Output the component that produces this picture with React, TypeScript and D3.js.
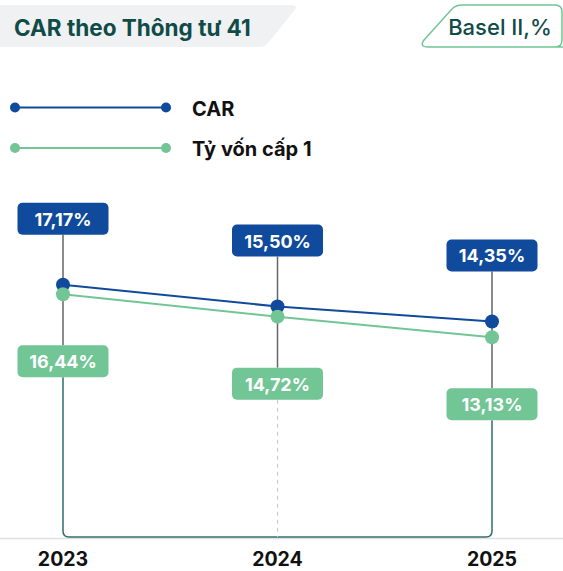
import { useMemo } from 'react'
import { scaleLinear, scalePoint, line } from 'd3'

const WIDTH = 563
const HEIGHT = 571

const years = ['2023', '2024', '2025']
const carValues = [17.17, 15.5, 14.35]
const tier1Values = [16.44, 14.72, 13.13]
const carLabels = ['17,17%', '15,50%', '14,35%']
const tier1Labels = ['16,44%', '14,72%', '13,13%']
const legendNames = ['CAR', 'Tỷ vốn cấp 1']

const BLUE = '#0f4a9c'
const GREEN = '#72c595'
const TEAL = '#0f4b47'
const FONT = 'Inter, "Noto Sans", sans-serif'

const BOX_W = 91
const BOX_H = 32
const BASE_Y = 537

export default function App() {
  const x = useMemo(() => scalePoint<string>().domain(years).range([63, 492]), [])
  const y = useMemo(() => scaleLinear().domain([10, 20]).range([378, 248]), [])

  const path = line<number>()
    .x((_, i) => x(years[i]) ?? 0)
    .y((d) => y(d))

  const x0 = x(years[0]) ?? 0
  const x2 = x(years[years.length - 1]) ?? 0
  const r = 7

  return (
    <svg
      width={WIDTH}
      height={HEIGHT}
      viewBox={`0 0 ${WIDTH} ${HEIGHT}`}
      style={{ position: 'absolute', left: 0, top: 0, display: 'block' }}
      fontFamily={FONT}
    >
      <rect width={WIDTH} height={HEIGHT} fill="#fff" />

      {/* title tab */}
      <path d="M-10,5 L291,5 Q299,5 294,11 L268,43 Q265,47 259,47 L-10,47 Z" fill="#f0f1f3" />
      <text x={14} y={36} fontSize={22.5} fontWeight={700} fill={TEAL}>
        CAR theo Thông tư 41
      </text>

      {/* unit badge */}
      <path
        d="M565,47 L428,47 Q419,47 424,40 L452,9 Q456,5 462,5 L555,5 Q562,5 562,12 L562,40 Q562,47 555,47"
        fill="none"
        stroke={GREEN}
        strokeWidth={1.5}
      />
      <text x={500} y={35} fontSize={22} fontWeight={500} fill={TEAL} textAnchor="middle">
        Basel II,%
      </text>

      {/* legend */}
      {[BLUE, GREEN].map((c, i) => {
        const ly = 107.5 + i * 40.5
        return (
          <g key={c}>
            <line x1={15} x2={166} y1={ly} y2={ly} stroke={c} strokeWidth={2} />
            <circle cx={15} cy={ly} r={5} fill={c} />
            <circle cx={166} cy={ly} r={5} fill={c} />
            <text x={192} y={ly + 8} fontSize={20} fontWeight={700} fill="#111">
              {legendNames[i]}
            </text>
          </g>
        )
      })}

      {/* baseline */}
      <line x1={0} x2={WIDTH} y1={BASE_Y + 1.5} y2={BASE_Y + 1.5} stroke="#e0e0e0" strokeWidth={1.5} />

      {/* teal bracket joining first and last year */}
      {(() => {
        const topA = y(tier1Values[0]) + 51 + BOX_H
        const topC = y(tier1Values[2]) + 51 + BOX_H
        return (
          <path
            d={`M${x0},${topA} L${x0},${BASE_Y - 6} Q${x0},${BASE_Y} ${x0 + 6},${BASE_Y} L${x2 - 6},${BASE_Y} Q${x2},${BASE_Y} ${x2},${BASE_Y - 6} L${x2},${topC}`}
            fill="none"
            stroke="#2f6f6e"
            strokeWidth={1.5}
          />
        )
      })()}

      {/* dashed middle guide */}
      {(() => {
        const xm = x(years[1]) ?? 0
        const top = y(tier1Values[1]) + 51 + BOX_H
        return <line x1={xm} x2={xm} y1={top} y2={BASE_Y} stroke="#c8c8c8" strokeWidth={1.2} strokeDasharray="4 4" />
      })()}

      {/* vertical connectors */}
      {years.map((yr, i) => {
        const cx = x(yr) ?? 0
        return (
          <line
            key={yr}
            x1={cx}
            x2={cx}
            y1={y(carValues[i]) - 50}
            y2={y(tier1Values[i]) + 51}
            stroke="#666"
            strokeWidth={1.5}
          />
        )
      })}

      {/* series */}
      <path d={path(carValues) ?? undefined} fill="none" stroke={BLUE} strokeWidth={2} />
      <path d={path(tier1Values) ?? undefined} fill="none" stroke={GREEN} strokeWidth={2} />
      {carValues.map((v, i) => (
        <circle key={`c${i}`} cx={x(years[i])} cy={y(v)} r={r} fill={BLUE} />
      ))}
      {tier1Values.map((v, i) => (
        <circle key={`t${i}`} cx={x(years[i])} cy={y(v)} r={r} fill={GREEN} />
      ))}

      {/* value labels */}
      {years.map((yr, i) => {
        const cx = x(yr) ?? 0
        const topY = y(carValues[i]) - 50 - BOX_H
        const botY = y(tier1Values[i]) + 51
        return (
          <g key={`l${yr}`}>
            <rect x={cx - BOX_W / 2} y={topY} width={BOX_W} height={BOX_H} rx={5} fill={BLUE} />
            <text x={cx} y={topY + 23} textAnchor="middle" fontSize={18} fontWeight={700} fill="#fff">
              {carLabels[i]}
            </text>
            <rect x={cx - BOX_W / 2} y={botY} width={BOX_W} height={BOX_H} rx={5} fill={GREEN} />
            <text x={cx} y={botY + 23} textAnchor="middle" fontSize={18} fontWeight={700} fill="#fff">
              {tier1Labels[i]}
            </text>
          </g>
        )
      })}

      {/* year axis labels */}
      {years.map((yr) => (
        <text key={`y${yr}`} x={x(yr)} y={566} textAnchor="middle" fontSize={19.5} fontWeight={700} fill="#111">
          {yr}
        </text>
      ))}
    </svg>
  )
}
